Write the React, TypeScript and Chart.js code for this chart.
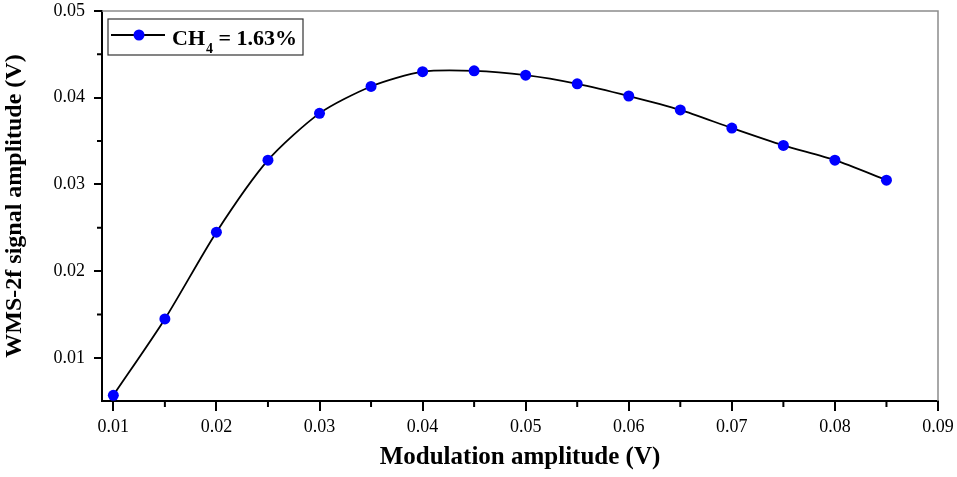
import React, { useEffect, useRef } from "react";
import { Chart, registerables } from "chart.js";

Chart.register(...registerables);

// Modulation amplitude (V)
const modulation = [
  0.01, 0.015, 0.02, 0.025, 0.03, 0.035, 0.04, 0.045, 0.05, 0.055, 0.06, 0.065, 0.07, 0.075, 0.08, 0.085,
];
// WMS-2f signal amplitude (V), CH4 = 1.63%
const signal = [
  0.0057, 0.0145, 0.0245, 0.0328, 0.0382, 0.0413, 0.043, 0.0431, 0.0426, 0.0416, 0.0402, 0.0386, 0.0365,
  0.0345, 0.0328, 0.0305,
];
const xTicks = [0.01, 0.02, 0.03, 0.04, 0.05, 0.06, 0.07, 0.08, 0.09];
const xMinor = [0.015, 0.025, 0.035, 0.045, 0.055, 0.065, 0.075, 0.085];
const yTicks = [0.01, 0.02, 0.03, 0.04, 0.05];
const yMinor = [0.015, 0.025, 0.035, 0.045];

const FONT = "'Liberation Serif', 'Times New Roman', serif";
const BLUE = "#0000ff";

// minor ticks + grey top/right frame, like Origin
const framePlugin = {
  id: "frame",
  afterDraw(chart: any) {
    const { ctx, chartArea: a, scales } = chart;
    ctx.save();
    ctx.strokeStyle = "#8c8c8c";
    ctx.lineWidth = 1.5;
    ctx.beginPath();
    ctx.moveTo(a.left, a.top);
    ctx.lineTo(a.right, a.top);
    ctx.lineTo(a.right, a.bottom);
    ctx.stroke();

    ctx.strokeStyle = "#000";
    ctx.lineWidth = 2;
    ctx.beginPath();
    xMinor.forEach((v) => {
      const px = scales.x.getPixelForValue(v);
      ctx.moveTo(px, a.bottom);
      ctx.lineTo(px, a.bottom + 6);
    });
    yMinor.forEach((v) => {
      const py = scales.y.getPixelForValue(v);
      ctx.moveTo(a.left, py);
      ctx.lineTo(a.left - 5, py);
    });
    ctx.stroke();
    ctx.restore();
  },
};

// legend box with subscript
const legendPlugin = {
  id: "subLegend",
  afterDatasetsDraw(chart: any) {
    const { ctx, chartArea: a } = chart;
    const x0 = a.left + 6;
    const y0 = a.top + 8;
    const w = 195;
    const h = 36;
    ctx.save();
    ctx.fillStyle = "#fff";
    ctx.fillRect(x0, y0, w, h);
    ctx.strokeStyle = "#333";
    ctx.lineWidth = 1.2;
    ctx.strokeRect(x0, y0, w, h);

    const cy = y0 + 16;
    ctx.strokeStyle = "#000";
    ctx.lineWidth = 1.8;
    ctx.beginPath();
    ctx.moveTo(x0 + 3, cy);
    ctx.lineTo(x0 + 57, cy);
    ctx.stroke();
    ctx.fillStyle = BLUE;
    ctx.beginPath();
    ctx.arc(x0 + 31, cy, 5.5, 0, Math.PI * 2);
    ctx.fill();

    ctx.fillStyle = "#000";
    ctx.textBaseline = "alphabetic";
    ctx.textAlign = "left";
    const base = y0 + 26;
    let tx = x0 + 64;
    ctx.font = `bold 22px ${FONT}`;
    ctx.fillText("CH", tx, base);
    tx += ctx.measureText("CH").width;
    ctx.font = `bold 14px ${FONT}`;
    ctx.fillText("4", tx + 1, base + 8);
    tx += ctx.measureText("4").width + 1;
    ctx.font = `bold 22px ${FONT}`;
    ctx.fillText(" = 1.63%", tx, base);
    ctx.restore();
  },
};

export default function App() {
  const canvasRef = useRef<HTMLCanvasElement | null>(null);
  const chartRef = useRef<Chart | null>(null);

  useEffect(() => {
    document.body.style.margin = "0";
    if (!canvasRef.current) return;
    const ctx = canvasRef.current.getContext("2d");
    if (!ctx) return;
    if (chartRef.current) chartRef.current.destroy();

    chartRef.current = new Chart(ctx, {
      type: "line",
      data: {
        datasets: [
          {
            label: "CH4 = 1.63%",
            data: modulation.map((m, i) => ({ x: m, y: signal[i] })),
            borderColor: "#000",
            borderWidth: 1.8,
            pointBackgroundColor: BLUE,
            pointBorderColor: BLUE,
            pointRadius: 5.5,
            pointBorderWidth: 0,
            tension: 0.25,
            fill: false,
          },
        ],
      },
      options: {
        animation: false,
        responsive: false,
        layout: { padding: { top: 11, right: 19, left: 0, bottom: 0 } },
        plugins: {
          legend: { display: false },
          tooltip: { enabled: false },
        },
        scales: {
          x: {
            type: "linear",
            min: 0.0089,
            max: 0.09,
            afterBuildTicks: (s: any) => {
              s.ticks = xTicks.map((v) => ({ value: v }));
            },
            afterFit: (s: any) => {
              s.height = 76;
              s.paddingLeft = 0;
              s.paddingRight = 0;
            },
            grid: {
              drawOnChartArea: false,
              drawTicks: true,
              tickLength: 10,
              color: "#000",
              lineWidth: 2,
            },
            border: { display: true, color: "#000", width: 2 },
            ticks: {
              color: "#000",
              padding: 5,
              font: { family: FONT, size: 18 },
              callback: (v: any) => Number(v).toFixed(2),
            },
            title: {
              display: true,
              text: "Modulation amplitude (V)",
              color: "#000",
              font: { family: FONT, size: 25, weight: "bold" },
              padding: { top: 0, bottom: 4 },
            },
          },
          y: {
            type: "linear",
            min: 0.00504,
            max: 0.05,
            afterBuildTicks: (s: any) => {
              s.ticks = yTicks.map((v) => ({ value: v }));
            },
            afterFit: (s: any) => {
              s.width = 102;
              s.paddingTop = 0;
              s.paddingBottom = 0;
            },
            grid: {
              drawOnChartArea: false,
              drawTicks: true,
              tickLength: 8,
              color: "#000",
              lineWidth: 2,
            },
            border: { display: true, color: "#000", width: 2 },
            ticks: {
              color: "#000",
              padding: 9,
              font: { family: FONT, size: 18 },
              callback: (v: any) => Number(v).toFixed(2),
            },
            title: {
              display: true,
              text: "WMS-2f signal amplitude (V)",
              color: "#000",
              font: { family: FONT, size: 24, weight: "bold" },
              padding: { top: 0, bottom: 0 },
            },
          },
        },
      },
      plugins: [framePlugin, legendPlugin],
    });

    return () => {
      chartRef.current?.destroy();
      chartRef.current = null;
    };
  }, []);

  return (
    <div style={{ width: 957, height: 477, background: "#fff" }}>
      <canvas ref={canvasRef} width={957} height={477} />
    </div>
  );
}
